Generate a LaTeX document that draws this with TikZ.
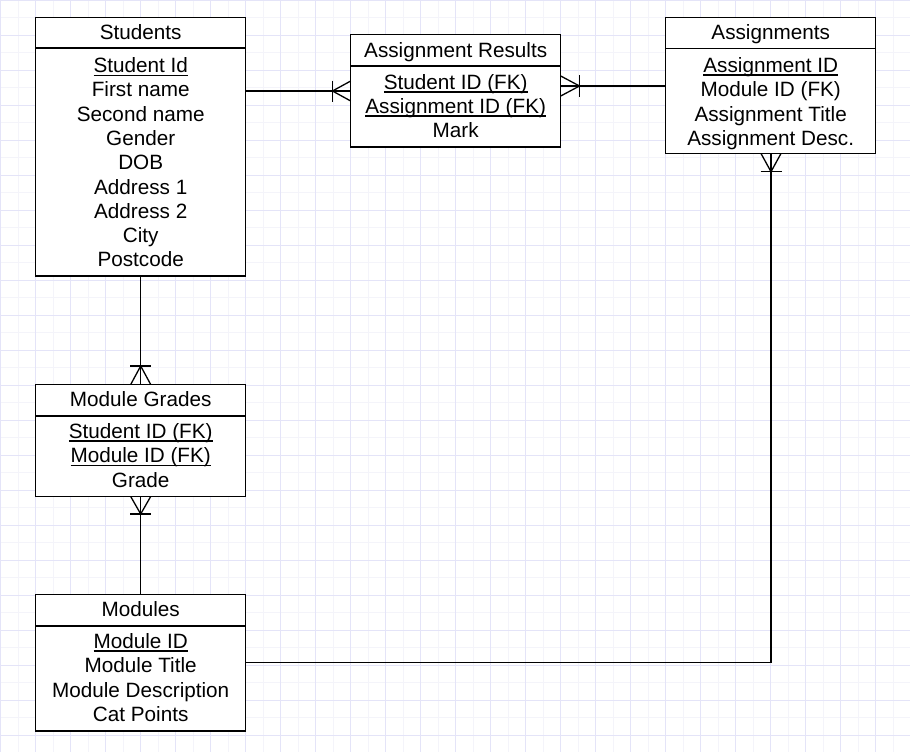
\documentclass[tikz,border=0pt]{standalone}
\usepackage{fontspec}
\setmainfont{Liberation Sans}
\usetikzlibrary{calc}
\definecolor{gridmajor}{RGB}{228,228,248}
\definecolor{gridminor}{RGB}{244,244,250}
\newcommand\ulx[1]{\setbox0\hbox{#1}\rlap{\rule[-3.3pt]{\wd0}{1.2pt}}\box0}
\begin{document}
\begin{tikzpicture}[x=1pt,y=-1pt,
  entity/.style={draw=black,line width=1.3pt,fill=white,minimum width=210pt,inner sep=0pt,outer sep=0pt,anchor=north west},
  sepline/.style={draw=black,line width=1.3pt},
  txt/.style={inner sep=0pt,anchor=base,font=\fontsize{20.7}{24}\selectfont},
  conn/.style={draw=black,line width=1.3pt},
  gmaj/.style={draw=gridmajor,line width=1pt},
  gmin/.style={draw=gridminor,line width=1pt}]
\useasboundingbox[fill=white] (0,0) rectangle (910,752);
% grid
\foreach \i in {0,...,25} {\draw[gmin] ({18.2+35*\i},0) -- ({18.2+35*\i},752);}
\foreach \i in {0,...,21} {\draw[gmin] (0,{17.7+35*\i}) -- (910,{17.7+35*\i});}
\foreach \i in {0,...,26} {\draw[gmaj] ({0.7+35*\i},0) -- ({0.7+35*\i},752);}
\foreach \i in {0,...,21} {\draw[gmaj] (0,{0.2+35*\i}) -- (910,{0.2+35*\i});}

% entities
\node[entity,minimum height=258.5pt] (students) at (35.7,17.5) {};
\node[entity,minimum height=112.3pt] (ar) at (350.7,34.7) {};
\node[entity,minimum height=136pt] (asg) at (665.7,17.5) {};
\node[entity,minimum height=112pt] (mg) at (35.7,384.5) {};
\node[entity,minimum height=136.3pt] (mod) at (35.7,594.7) {};

\draw[sepline] (students.west |- 0,48) -- (students.east |- 0,48);
\draw[sepline] (ar.west |- 0,66) -- (ar.east |- 0,66);
\draw[sepline] (asg.west |- 0,48.3) -- (asg.east |- 0,48.3);
\draw[sepline] (mg.west |- 0,416) -- (mg.east |- 0,416);
\draw[sepline] (mod.west |- 0,626) -- (mod.east |- 0,626);

% Students text
\node[txt] (st) at (140.7,39.5) {Students};
\node[txt] (s1) at (140.7,72.5) {\ulx{Student Id}};
\node[txt] (s2) at (140.7,96.8) {First name};
\node[txt] (s3) at (140.7,121.1) {Second name};
\node[txt] (s4) at (140.7,145.4) {Gender};
\node[txt] (s5) at (140.7,169.7) {DOB};
\node[txt] (s6) at (140.7,194.0) {Address 1};
\node[txt] (s7) at (140.7,218.3) {Address 2};
\node[txt] (s8) at (140.7,242.6) {City};
\node[txt] (s9) at (140.7,266.9) {Postcode};

% Assignment Results text
\node[txt] (art) at (455.7,57.3) {Assignment Results};
\node[txt] (ar1) at (455.7,89.3) {\ulx{Student ID (FK)}};
\node[txt] (ar2) at (455.7,113.3) {\ulx{Assignment ID (FK)}};
\node[txt] (ar3) at (455.7,137.0) {Mark};

% Assignments text
\node[txt] (at) at (770.7,39.3) {Assignments};
\node[txt] (a1) at (770.7,72.3) {\ulx{Assignment ID}};
\node[txt] (a2) at (770.7,96.6) {Module ID (FK)};
\node[txt] (a3) at (770.7,121.0) {Assignment Title};
\node[txt] (a4) at (770.7,145.3) {Assignment Desc.};

% Module Grades text
\node[txt] (mgt) at (140.7,406.7) {Module Grades};
\node[txt] (mg1) at (140.7,438.3) {\ulx{Student ID (FK)}};
\node[txt] (mg2) at (140.7,462.7) {\ulx{Module ID (FK)}};
\node[txt] (mg3) at (140.7,487.0) {Grade};

% Modules text
\node[txt] (mt) at (140.7,616.7) {Modules};
\node[txt] (m1) at (140.7,648.3) {\ulx{Module ID}};
\node[txt] (m2) at (140.7,672.7) {Module Title};
\node[txt] (m3) at (140.7,697.0) {Module Description};
\node[txt] (m4) at (140.7,721.3) {Cat Points};

% Students -- Assignment Results
\draw[conn] (students.east |- 0,91) -- (ar.west |- 0,91);
\coordinate (f1) at (332.5,91);
\draw[conn] (ar.west |- 0,81) -- (f1) -- (ar.west |- 0,101);
\draw[conn] (332.5,80.5) -- (332.5,101.5);

% Assignment Results -- Assignments
\draw[conn] (ar.east |- 0,86) -- (asg.west |- 0,86);
\coordinate (f2) at (579.5,86);
\draw[conn] (ar.east |- 0,76) -- (f2) -- (ar.east |- 0,96);
\draw[conn] (579.5,75.5) -- (579.5,96.5);

% Students -- Module Grades
\draw[conn] (students.south) -- (mg.north);
\coordinate (f3) at (140.7,366);
\draw[conn] (mg.north -| 130.7,0) -- (f3) -- (mg.north -| 150.7,0);
\draw[conn] (130.2,366) -- (151.2,366);

% Module Grades -- Modules
\draw[conn] (mg.south) -- (mod.north);
\coordinate (f4) at (140.7,514);
\draw[conn] (mg.south -| 130.7,0) -- (f4) -- (mg.south -| 150.7,0);
\draw[conn] (130.2,514) -- (151.2,514);

% Modules -- Assignments
\coordinate (bend) at (771,662.7);
\draw[conn] (mod.east |- bend) -- (bend) -- (asg.south -| bend);
\coordinate (f5) at (771,171.7);
\draw[conn] (asg.south -| 761,0) -- (f5) -- (asg.south -| 781,0);
\draw[conn] (760.5,171.7) -- (781.5,171.7);
\end{tikzpicture}
\end{document}
